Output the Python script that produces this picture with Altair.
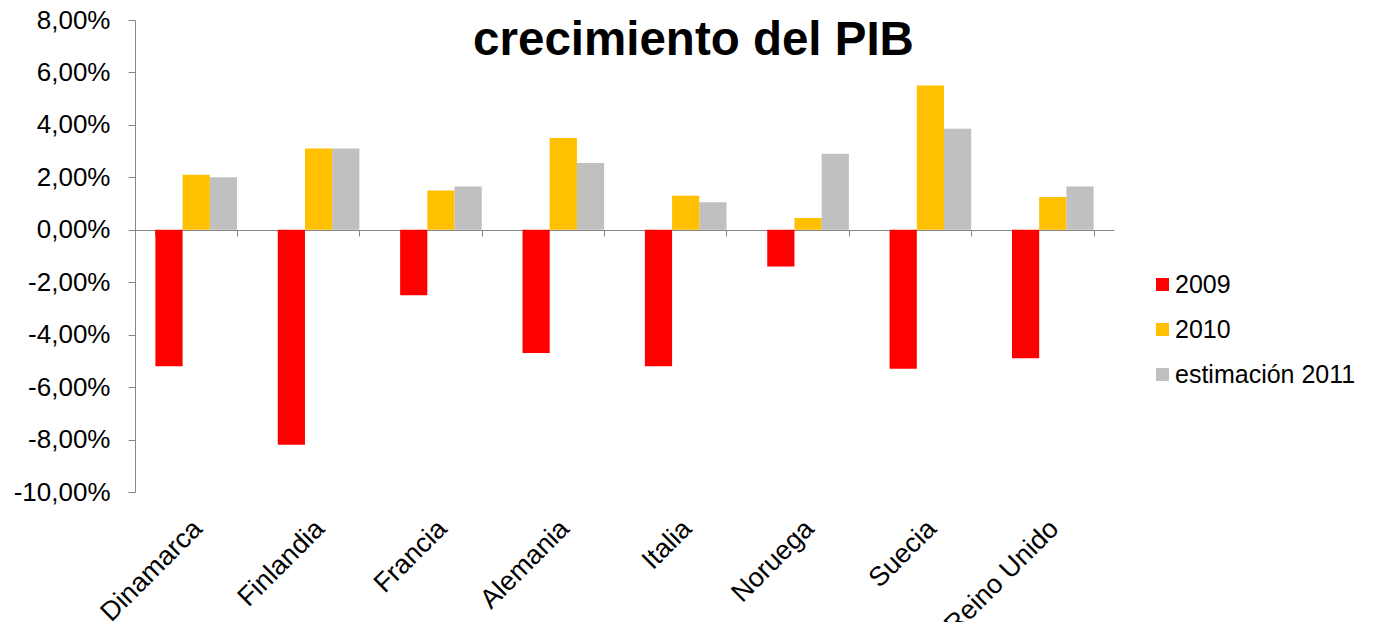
import altair as alt
import pandas as pd

countries = ["Dinamarca", "Finlandia", "Francia", "Alemania", "Italia", "Noruega", "Suecia", "Reino Unido"]
series = ["2009", "2010", "estimación 2011"]
v2009 = [-5.2, -8.2, -2.5, -4.7, -5.2, -1.4, -5.3, -4.9]
v2010 = [2.1, 3.1, 1.5, 3.5, 1.3, 0.45, 5.5, 1.25]
v2011 = [2.0, 3.1, 1.65, 2.55, 1.05, 2.9, 3.85, 1.65]
colors = ["#FF0000", "#FFC000", "#C0C0C0"]
y_ticks = [-10, -8, -6, -4, -2, 0, 2, 4, 6, 8]

rows = []
for vals, s in zip([v2009, v2010, v2011], series):
    for c, v in zip(countries, vals):
        rows.append({"pais": c, "serie": s, "valor": v})
df = pd.DataFrame(rows)

font = "Liberation Sans"

chart = alt.Chart(df).mark_bar().encode(
    x=alt.X("pais:N", sort=countries,
            scale=alt.Scale(paddingInner=0.333, paddingOuter=0.1667),
            axis=alt.Axis(title=None, orient="bottom", offset=-262,
                          domainColor="#868686", tickColor="#868686",
                          tickSize=6, tickBand="extent",
                          labelAngle=-45, labelAlign="right", labelBaseline="top",
                          labelPadding=279, labelOffset=-8, labelFontSize=27, labelFont=font,
                          labelColor="#000000", labelLimit=0)),
    xOffset=alt.XOffset("serie:N", sort=series,
                        scale=alt.Scale(paddingInner=0, paddingOuter=0)),
    y=alt.Y("valor:Q", scale=alt.Scale(domain=[-10, 8], nice=False, zero=False),
            axis=alt.Axis(title=None, values=y_ticks, grid=False,
                          labelExpr="replace(replace(format(datum.value, '.2f'), '.', ','), '\u2212', '-') + '%'",
                          domainColor="#868686", tickColor="#868686",
                          tickSize=7, labelPadding=18, labelFontSize=26,
                          labelFont=font, labelColor="#000000")),
    color=alt.Color("serie:N", sort=series,
                    scale=alt.Scale(domain=series, range=colors),
                    legend=alt.Legend(title=None, orient="none", legendX=1015, legendY=252,
                                      padding=0, symbolType="square", symbolSize=169,
                                      symbolStrokeWidth=0, labelOffset=0, rowPadding=19,
                                      labelFontSize=25, labelFont=font, labelColor="#000000",
                                      labelLimit=0)),
).properties(
    width=979, height=472,
    title=alt.TitleParams("crecimiento del PIB", fontSize=47.5, fontWeight="bold", font=font,
                          color="#000000", anchor="middle", frame="group", dx=69,
                          baseline="alphabetic", offset=-50, dy=45),
    autosize=alt.AutoSizeParams(type="none"),
    padding={"left": 127, "top": 12, "right": 255, "bottom": 130},
).configure_view(stroke=None)

chart.save("out.html", embed_options={"renderer": "svg", "actions": False})
